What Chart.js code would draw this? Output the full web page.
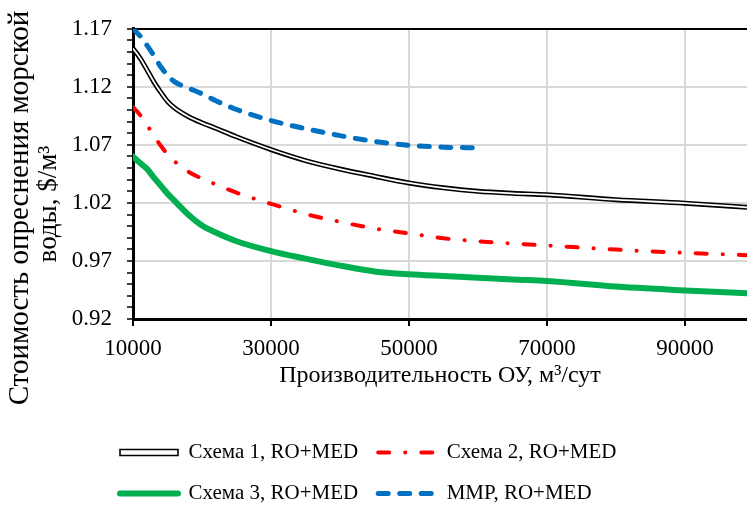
<!DOCTYPE html>
<html>
<head>
<meta charset="utf-8">
<script src="https://cdn.jsdelivr.net/npm/chart.js@4"></script>
<style>
  html, body { margin: 0; padding: 0; background: #fff; overflow: hidden; }
</style>
</head>
<body>
<canvas id="chart" width="747" height="506"></canvas>
<script>
// capacity of the plant, m3/day
const capacity = [10000, 11000, 12000, 13000, 14000, 15000, 16000, 18000, 20000, 22000, 25000,
  30000, 35000, 40000, 45000, 50000, 55000, 60000, 65000, 70000, 80000, 90000, 100000];
const mmpCapacity = [10000, 11000, 12000, 13000, 14000, 15000, 16000, 18000, 20000, 22000, 25000,
  30000, 35000, 40000, 45000, 50000, 55000, 60000];

// cost of desalinated water, $/m3
const scheme1 = [1.153, 1.145, 1.135, 1.1245, 1.1155, 1.1075, 1.102, 1.0945, 1.089, 1.0843, 1.077,
  1.066, 1.0565, 1.0492, 1.043, 1.0372, 1.033, 1.030, 1.0283, 1.0271, 1.0228, 1.0198, 1.0158];
const scheme2 = [1.1025, 1.096, 1.0875, 1.078, 1.0695, 1.062, 1.056, 1.047, 1.041, 1.036, 1.0288,
  1.0192, 1.0105, 1.0037, 0.998, 0.9938, 0.9895, 0.987, 0.985, 0.9833, 0.9798, 0.977, 0.9748];
const scheme3 = [1.060, 1.0545, 1.0495, 1.042, 1.035, 1.028, 1.022, 1.010, 1.0005, 0.9945, 0.987,
  0.9785, 0.972, 0.966, 0.961, 0.9585, 0.957, 0.9556, 0.954, 0.9528, 0.948, 0.9446, 0.942];
const mmp = [1.170, 1.164, 1.156, 1.147, 1.1375, 1.130, 1.1245, 1.119, 1.114, 1.108, 1.1005,
  1.091, 1.084, 1.078, 1.073, 1.0697, 1.068, 1.0675];

const seriesNames = ['Схема 1, RO+MED', 'Схема 2, RO+MED', 'Схема 3, RO+MED', 'MMP, RO+MED'];
const xTicks = [10000, 30000, 50000, 70000, 90000];
const xTitle = 'Производительность ОУ, м³/сут';
const yTitleLines = ['Стоимость опреснения морской', 'воды, $/м³'];

const serif = '"Liberation Serif", "Times New Roman", serif';

const points = (xs, ys) => xs.map((x, i) => ({ x, y: ys[i] }));
const isMajor = v => Math.round(v * 100) % 5 === 2;

// rotated two-line title left of the y axis
const yTitlePlugin = {
    id: 'yTitle',
    afterLayout(chart) {
        // line the legend up under the plot like the original
        if (chart.legend) chart.legend.left = 100;
    },
    afterDraw(chart) {
        const ctx = chart.ctx;
        const sizes = [29, 27], xs = [20, 49], ys = [208, 204];
        ctx.save();
        ctx.fillStyle = '#000';
        ctx.textAlign = 'center';
        ctx.textBaseline = 'middle';
        yTitleLines.forEach((line, i) => {
            ctx.save();
            ctx.font = sizes[i] + 'px ' + serif;
            ctx.translate(xs[i], ys[i]);
            ctx.rotate(-Math.PI / 2);
            ctx.fillText(line, 0, 0);
            ctx.restore();
        });
        ctx.restore();
    }
};

const chart = new Chart(document.getElementById('chart'), {
    type: 'line',
    data: {
        datasets: [
            {
                // white core of the double line (drawn on top)
                label: 'core',
                data: points(capacity, scheme1),
                borderColor: '#fff',
                borderWidth: 1.8,
                cubicInterpolationMode: 'monotone',
                pointRadius: 0
            },
            {
                label: seriesNames[0],
                data: points(capacity, scheme1),
                borderColor: '#000',
                backgroundColor: '#fff',
                borderWidth: 5,
                cubicInterpolationMode: 'monotone',
                pointRadius: 0
            },
            {
                label: seriesNames[1],
                data: points(capacity, scheme2),
                borderColor: '#ff0000',
                backgroundColor: '#ff0000',
                borderWidth: 4,
                borderDash: [11, 16, 0.1, 16],
                borderCapStyle: 'round',
                cubicInterpolationMode: 'monotone',
                pointRadius: 0
            },
            {
                label: seriesNames[2],
                data: points(capacity, scheme3),
                borderColor: '#00b050',
                backgroundColor: '#00b050',
                borderWidth: 6,
                borderCapStyle: 'round',
                cubicInterpolationMode: 'monotone',
                pointRadius: 0
            },
            {
                label: seriesNames[3],
                data: points(mmpCapacity, mmp),
                borderColor: '#0070c0',
                backgroundColor: '#0070c0',
                borderWidth: 5,
                borderDash: [10, 11.5],
                borderCapStyle: 'round',
                cubicInterpolationMode: 'monotone',
                pointRadius: 0
            }
        ]
    },
    options: {
        responsive: false,
        animation: false,
        layout: { padding: { left: 71, top: 2, right: 0, bottom: -8 } },
        scales: {
            x: {
                type: 'linear',
                min: 10000,
                max: 99000,
                afterBuildTicks: s => { s.ticks = xTicks.map(value => ({ value })); },
                border: { color: '#000', width: 3 },
                grid: {
                    color: c => (c.tick && c.tick.value === 10000 ? 'transparent' : '#d9d9d9'),
                    lineWidth: 2,
                    tickColor: '#000',
                    tickLength: 7,
                    tickWidth: 2
                },
                ticks: {
                    padding: 11,
                    color: '#000',
                    maxRotation: 0,
                    autoSkip: false,
                    font: { family: serif, size: 23, lineHeight: 1 },
                    callback: v => String(v)
                },
                title: {
                    display: true,
                    text: xTitle,
                    color: '#000',
                    font: { family: serif, size: 24, lineHeight: 1 },
                    padding: { top: -7, bottom: 34 }
                }
            },
            y: {
                min: 0.92,
                max: 1.17,
                afterFit: s => { s.width = 62; },
                border: { color: '#000', width: 3 },
                grid: {
                    color: c => {
                        const v = c.tick ? c.tick.value : 0;
                        if (Math.round(v * 100) === 117) return '#000';
                        if (Math.round(v * 100) === 92 || !isMajor(v)) return 'transparent';
                        return '#d9d9d9';
                    },
                    lineWidth: 2,
                    tickColor: '#000',
                    tickLength: 6,
                    tickWidth: 1.5
                },
                ticks: {
                    stepSize: 0.01,
                    autoSkip: false,
                    padding: 15,
                    color: '#000',
                    font: { family: serif, size: 23 },
                    callback: v => (isMajor(v) ? v.toFixed(2) : '')
                }
            }
        },
        plugins: {
            tooltip: { enabled: false },
            legend: {
                position: 'bottom',
                align: 'start',
                labels: {
                    usePointStyle: true,
                    pointStyle: 'line',
                    pointStyleWidth: 58,
                    boxHeight: 6,
                    padding: 20,
                    color: '#000',
                    font: { family: serif, size: 21 },
                    filter: item => item.datasetIndex !== 0,
                    generateLabels(chart) {
                        const items = Chart.defaults.plugins.legend.labels.generateLabels(chart);
                        items.forEach(item => {
                            const ds = chart.data.datasets[item.datasetIndex];
                            item.strokeStyle = ds.borderColor;
                            item.lineWidth = ds.borderWidth;
                            item.lineDash = ds.borderDash || [];
                            item.lineCap = ds.borderCapStyle || 'butt';
                            if (item.datasetIndex === 1) {
                                // double line shown as an outlined bar
                                item.pointStyle = 'rect';
                                item.fillStyle = '#fff';
                                item.lineWidth = 1.6;
                            }
                        });
                        return items;
                    }
                }
            }
        }
    },
    plugins: [yTitlePlugin]
});
</script>
</body>
</html>
